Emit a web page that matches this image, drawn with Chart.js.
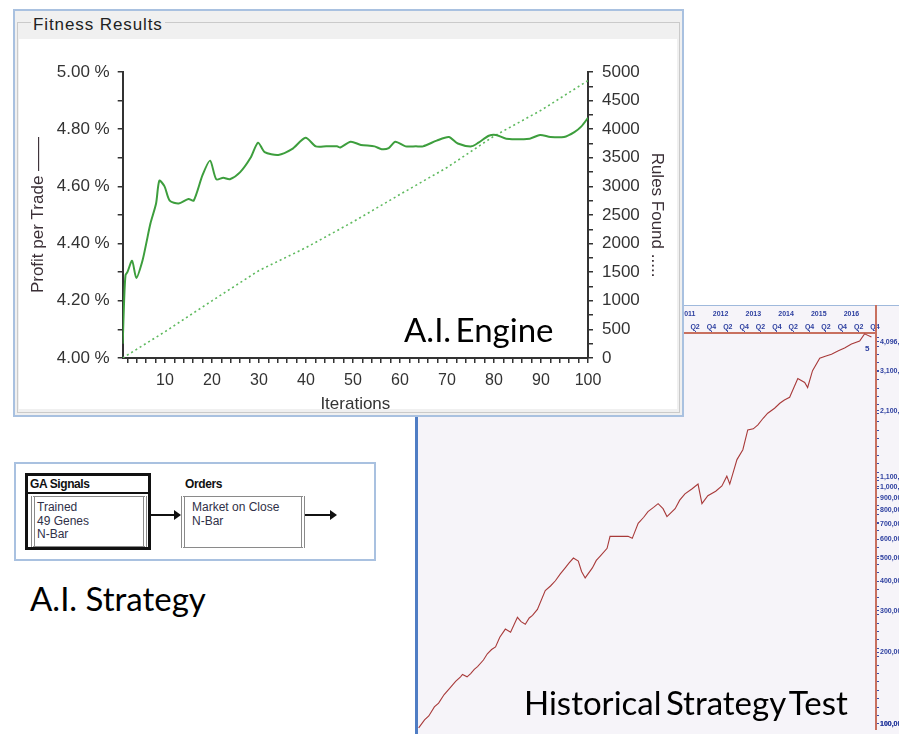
<!DOCTYPE html>
<html><head><meta charset="utf-8">
<script src="https://cdn.jsdelivr.net/npm/chart.js@4/dist/chart.umd.min.js"></script>
<style>
html,body{margin:0;padding:0;background:#fff;}
body{width:899px;height:734px;position:relative;overflow:hidden;font-family:"Liberation Sans",Arial,sans-serif;}
.abs{position:absolute;box-sizing:border-box;}
#hist{left:415px;top:305px;width:484px;height:429px;overflow:hidden;background:#f6f4f9;border-top:1px solid #9fb9dc;}
#histLeft{left:415px;top:305px;width:3px;height:429px;background:#4f7dc4;}
#histRed{left:875px;top:305px;width:2px;height:28px;background:#c8705f;}
#fitOuter{left:13px;top:9px;width:671px;height:408px;border:2px solid #a9c1e0;background:#f0f0f0;}
#fitGroup{left:17px;top:22px;width:663px;height:391px;border:1px solid #cacaca;}
#fitLabel{left:31px;top:16px;padding:0 2px;background:#f0f0f0;font-size:17px;line-height:17px;letter-spacing:0.9px;color:#222;}
#fitWhite{left:19px;top:39px;width:658px;height:370px;overflow:hidden;background:#fff;}
.big{font-family:Lato,"Open Sans",sans-serif;font-size:33px;line-height:33px;color:#000;white-space:nowrap;}
#flowOuter{left:14px;top:462px;width:362px;height:99px;border:2px solid #a9c1e0;background:#fff;}
.box{border-top:1px solid #8a8a8a;border-bottom:1px solid #8a8a8a;border-left:4px double #8a8a8a;border-right:4px double #8a8a8a;background:#fff;}
.txt{font-size:12px;line-height:13.5px;color:#2f3048;white-space:nowrap;}
.hdr{font-size:12px;font-weight:bold;letter-spacing:-0.4px;color:#111;white-space:nowrap;}
.line{background:#111;height:1.5px;}
.head{width:0;height:0;border-top:5px solid transparent;border-bottom:5px solid transparent;border-left:7px solid #111;}
</style></head>
<body>

<div id="hist" class="abs"><canvas id="c2" width="530" height="429"></canvas></div>
<div id="histLeft" class="abs"></div>
<div id="histRed" class="abs"></div>
<div class="abs" style="left:865px;top:344px;font-size:8px;font-weight:bold;color:#2e40a0;">5</div>
<div class="abs big" style="left:524px;top:686px;word-spacing:-4px;">Historical Strategy Test</div>

<div id="fitOuter" class="abs"></div>
<div id="fitGroup" class="abs"></div>
<div id="fitLabel" class="abs">Fitness Results</div>
<div id="fitWhite" class="abs"><canvas id="c1" width="658" height="380"></canvas></div>
<div class="abs big" style="left:404px;top:313px;word-spacing:-4px;">A.I. Engine</div>

<div id="flowOuter" class="abs"></div>
<div class="abs" style="left:25px;top:473px;width:126px;height:77px;border:3px solid #111;background:#fff;"></div>
<div class="abs hdr" style="left:30px;top:477px;">GA Signals</div>
<div class="abs" style="left:27px;top:492px;width:122px;height:1.5px;background:#111;"></div>
<div class="abs box" style="left:31px;top:496px;width:116px;height:51px;"></div>
<div class="abs txt" style="left:37px;top:501px;">Trained<br>49 Genes<br>N-Bar</div>
<div class="abs line" style="left:151px;top:514px;width:24px;"></div>
<div class="abs head" style="left:174px;top:510px;"></div>
<div class="abs hdr" style="left:185px;top:477px;">Orders</div>
<div class="abs box" style="left:181px;top:496px;width:124px;height:52px;"></div>
<div class="abs txt" style="left:192px;top:501px;">Market on Close<br>N-Bar</div>
<div class="abs line" style="left:305px;top:514px;width:26px;"></div>
<div class="abs head" style="left:330px;top:510px;"></div>
<div class="abs big" style="left:30px;top:582px;">A.I. Strategy</div>

<script>
// ---------- Fitness Results data ----------
const iterations = [1,1.3,1.6,2,3,3.9,5.2,6,6.9,8.1,8.8,9.9,11,12.9,15,16.1,18,19.6,20.9,22.4,23.8,26,28.2,29.8,31.2,34.1,37,39.9,42.1,44.3,46.6,47.3,49.5,51.7,54.6,56.1,57.6,59,61.2,63.4,64.9,67.8,70.4,72.3,75.2,76.7,78.9,80.4,82.6,87.6,89.8,92,94.9,97.1,98.6,100];
const profitPerTrade = [4.05,4.20,4.29,4.30,4.34,4.28,4.34,4.40,4.47,4.54,4.62,4.60,4.55,4.54,4.556,4.55,4.64,4.69,4.625,4.63,4.625,4.65,4.70,4.753,4.72,4.71,4.73,4.77,4.74,4.74,4.74,4.736,4.756,4.745,4.74,4.73,4.734,4.756,4.74,4.74,4.74,4.76,4.773,4.75,4.74,4.753,4.777,4.78,4.767,4.767,4.78,4.773,4.773,4.79,4.81,4.84];
const ruleIterations = [1,10,20,30,40,50,60,70,80,90,100];
const rulesFound = [0,460,1000,1530,1930,2380,2860,3330,3880,4330,4850];
const xTickValues = [2,4,6,8,10,12,14,16,18,20,22,24,26,28,30,32,34,36,38,40,42,44,46,48,50,52,54,56,58,60,62,64,66,68,70,72,74,76,78,80,82,84,86,88,90,92,94,96,98,100];

// ---------- Historical Strategy Test data ----------
const histYears = [2002.92,2003.1,2003.23,2003.4,2003.53,2003.7,2003.84,2004.05,2004.2,2004.26,2004.4,2004.51,2004.62,2004.72,2004.9,2005.02,2005.15,2005.27,2005.4,2005.57,2005.73,2005.94,2006.05,2006.18,2006.3,2006.40,2006.55,2006.79,2006.95,2007.10,2007.25,2007.40,2007.52,2007.65,2007.80,2007.9,2008.01,2008.23,2008.35,2008.47,2008.68,2008.77,2009.32,2009.45,2009.63,2009.8,2009.93,2010.1,2010.24,2010.39,2010.51,2010.76,2010.9,2011.06,2011.27,2011.46,2011.58,2011.76,2012.0,2012.19,2012.34,2012.43,2012.65,2012.83,2012.98,2013.15,2013.29,2013.45,2013.59,2013.8,2013.96,2014.1,2014.26,2014.51,2014.72,2014.81,2014.96,2015.18,2015.35,2015.54,2015.75,2015.94,2016.15,2016.40,2016.55,2016.76];
const histEquity = [96200,104000,108000,118000,122300,133000,139900,151000,158000,161600,158000,163100,170000,174500,186000,197600,206000,211400,232000,251300,243700,281700,270000,263200,280000,287100,304400,365200,382000,401900,430000,455500,478000,501200,487000,440000,413200,455500,490000,511000,551200,619000,619000,607000,702400,745000,787400,820000,850500,810000,750000,810000,880000,935000,981000,1029000,850000,918000,960000,1010000,1111000,1029000,1305000,1437000,1741000,1760000,1830000,1950000,2049000,2150000,2256000,2330000,2390000,2868000,2761000,2630000,3098000,3499000,3560000,3634000,3760000,3861000,4011000,4134000,4430000,4300000];
const histTickValues = [100000,200000,300000,400000,500000,600000,700000,800000,900000,1000000,1100000,2100000,3100000,4096321];
const yearLabels = ['2003','2004','2005','2006','2007','2008','2009','2010','2011','2012','2013','2014','2015','2016'];
const yearNumbers = [2003,2004,2005,2006,2007,2008,2009,2010,2011,2012,2013,2014,2015,2016];
const quarterLabels = ['Q2','Q4'];
const quarterOffsets = [0.37,0.87];
const yearLabelOffset = 0.15;

Chart.defaults.font.family = '"Liberation Sans", Arial, sans-serif';

new Chart(document.getElementById('c1'), {
  type: 'line',
  data: { datasets: [
    { label:'Profit per Trade', data: iterations.map((x,i)=>({x:x, y:profitPerTrade[i]})), yAxisID:'y', xAxisID:'x',
      borderColor:'#3d9e3d', borderWidth:2, pointRadius:0, tension:0.25, fill:false },
    { label:'Rules Found', data: ruleIterations.map((x,i)=>({x:x, y:rulesFound[i]})), yAxisID:'y2', xAxisID:'x',
      borderColor:'#5fba5f', borderWidth:1.6, borderDash:[2,3], pointRadius:0, tension:0, fill:false }
  ]},
  options: {
    responsive:false, animation:false, devicePixelRatio:1,
    layout:{ padding:{ top:33, left:0, right:0, bottom:0 } },
    plugins:{ legend:{display:false}, tooltip:{enabled:false} },
    scales: {
      x: { type:'linear', position:'bottom', min:1, max:100,
        afterBuildTicks: s => { s.ticks = xTickValues.map(v => ({value:v})); },
        afterFit: s => { s.height = 61; },
        grid:{ drawOnChartArea:false, drawTicks:true, tickLength:5, color:'#333', lineWidth:1.5 },
        border:{ display:true, color:'#333', width:2 },
        ticks:{ padding:8, color:'#333', font:{size:16}, autoSkip:false, maxRotation:0, callback: v => (v % 10 === 0 ? String(v) : '') },
        title:{ display:true, text:'Iterations', color:'#333', font:{size:17}, padding:{top:0, bottom:4} } },
      y: { type:'linear', position:'left', min:4.0, max:5.0,
        afterFit: s => { s.width = 103.7; },
        grid:{ drawOnChartArea:false, tickLength:5, color:'#333', lineWidth:1.5 },
        border:{ display:true, color:'#333', width:2 },
        ticks:{ stepSize:0.1, padding:8, color:'#333', font:{size:17}, autoSkip:false,
          callback: v => { const k = Math.round(v*10); return k % 2 === 0 ? (k/10).toFixed(2) + ' %' : ''; } },
        title:{ display:true, text:'Profit per Trade \u2014\u2014', color:'#3a2f36', font:{size:17}, padding:{top:9, bottom:0} } },
      y2: { type:'linear', position:'right', min:0, max:5000,
        afterFit: s => { s.width = 89; },
        grid:{ drawOnChartArea:false, tickLength:5, color:'#333', lineWidth:1.5 },
        border:{ display:true, color:'#333', width:2 },
        ticks:{ stepSize:250, padding:9, color:'#333', font:{size:17}, autoSkip:false,
          callback: v => (v % 500 === 0 ? String(v) : '') },
        title:{ display:true, text:'Rules Found .....', color:'#3a2f36', font:{size:17}, padding:{top:10, bottom:0} } }
    }
  }
});

const quarterTicks = [];
yearNumbers.forEach(y => quarterOffsets.forEach(o => quarterTicks.push(y + o)));
// minor (unlabelled) tick marks along the log axis
const histAxisTicks = [];
for (let v = 100000; v < 4400000; v *= 1.085) histAxisTicks.push(Math.round(v));
histTickValues.forEach(v => histAxisTicks.push(v));
histAxisTicks.sort((a,b) => a - b);
const labelled = new Set(histTickValues);

new Chart(document.getElementById('c2'), {
  type:'line',
  data:{ datasets:[
    { label:'Equity', data: histYears.map((x,i)=>({x:x, y:histEquity[i]})), xAxisID:'xq', yAxisID:'yv',
      borderColor:'#a83a3a', borderWidth:1.1, pointRadius:0, tension:0, fill:false }
  ]},
  options:{
    responsive:false, animation:false, devicePixelRatio:1,
    layout:{ padding:{ left:3, top:0, right:0, bottom:0 } },
    plugins:{ legend:{display:false}, tooltip:{enabled:false} },
    scales:{
      xq:{ type:'linear', position:'top', min:2002.9, max:2016.9, weight:0,
        afterBuildTicks: s => { s.ticks = quarterTicks.map(v => ({value:v})); },
        afterFit: s => { s.height = 13; },
        grid:{ drawOnChartArea:false, tickLength:2, color:'#3b4fa8' },
        border:{ display:true, color:'#c8705f', width:2 },
        ticks:{ padding:0, autoSkip:false, maxRotation:0, color:'#2e40a0', font:{size:7, weight:'bold'},
          callback: (v,i) => quarterLabels[i % 2] } },
      xy:{ type:'linear', position:'top', min:2002.9, max:2016.9, weight:1,
        afterBuildTicks: s => { s.ticks = yearNumbers.map(v => ({value:v + yearLabelOffset})); },
        afterFit: s => { s.height = 14; },
        grid:{ display:false },
        border:{ display:false },
        ticks:{ padding:-6, autoSkip:false, maxRotation:0, color:'#2e40a0', font:{size:7, weight:'bold'},
          callback: (v,i) => yearLabels[i] } },
      yv:{ type:'logarithmic', position:'right', min:94400, max:4467000,
        afterBuildTicks: s => { s.ticks = histAxisTicks.map(v => ({value:v})); },
        afterFit: s => { s.width = 69; },
        grid:{ drawOnChartArea:false, tickLength:3, color:'#3b4fa8' },
        border:{ display:true, color:'#c8705f', width:2 },
        ticks:{ padding:1, autoSkip:false, color:'#2e40a0', font:{size:7, weight:'bold'},
          callback: v => (labelled.has(v) ? Number(v).toLocaleString('en-US') : '') } }
    }
  }
});
</script>
</body></html>
